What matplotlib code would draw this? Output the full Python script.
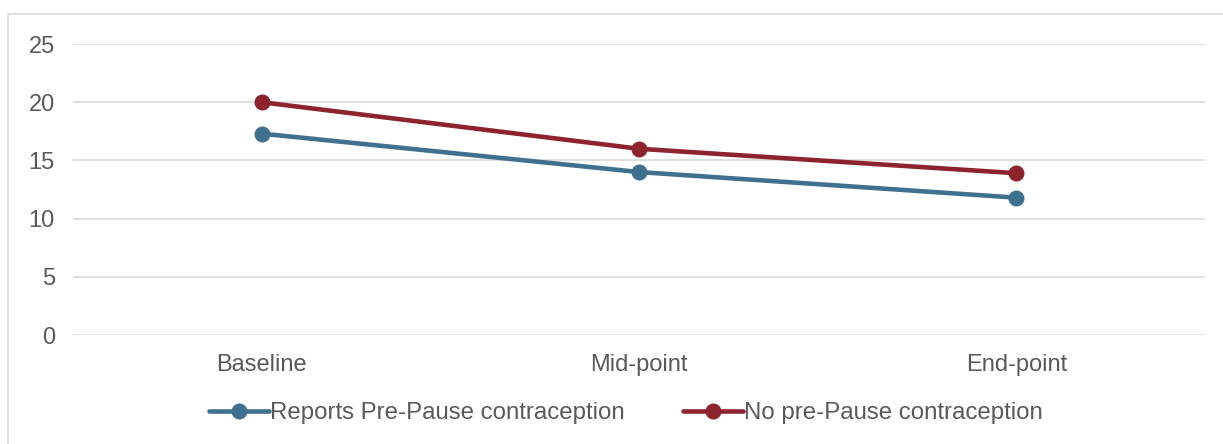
import matplotlib.pyplot as plt
from matplotlib.patches import Rectangle

# data
categories = ['Baseline', 'Mid-point', 'End-point']
pre_pause = [17.3, 14.0, 11.8]
no_pre_pause = [20.0, 16.0, 13.9]
series_names = ['Reports Pre-Pause contraception', 'No pre-Pause contraception']
y_ticks = [0, 5, 10, 15, 20, 25]

plt.rcParams['font.family'] = ['Liberation Sans', 'DejaVu Sans']

fig = plt.figure(figsize=(12.23, 4.44), dpi=100)
W, H = 1223, 444
ax = fig.add_axes([73 / W, 1 - 335 / H, (1205 - 73) / W, (335 - 44) / H])

# outer chart frame
fig.patches.append(Rectangle((8 / W, -0.05), 1.2, 1 - 14 / H + 0.05, transform=fig.transFigure,
                             fill=False, edgecolor='#d9d9d9', linewidth=1.2))

blue = '#40708f'
red = '#8c232d'
x = range(len(categories))
ax.plot(x, pre_pause, color=blue, linewidth=3.3, marker='o', markersize=10.5, label=series_names[0],
        solid_capstyle='round')
ax.plot(x, no_pre_pause, color=red, linewidth=3.3, marker='o', markersize=10.5, label=series_names[1],
        solid_capstyle='round')

ax.set_xlim(-0.5, 2.5)
ax.set_ylim(0, 25)
ax.set_yticks(y_ticks)
ax.set_xticks(list(x))
ax.set_xticklabels(categories)
ax.yaxis.grid(True, color='#d9d9d9', linewidth=1.2)
ax.set_axisbelow(True)
for s in ax.spines.values():
    s.set_visible(False)
ax.tick_params(length=0, labelsize=17, colors='#595959')
ax.tick_params(axis='x', pad=14)
ax.tick_params(axis='y', pad=13)

leg = ax.legend(loc='center', bbox_to_anchor=((626 - 73) / (1205 - 73), 1 - (413 - 44) / (335 - 44)),
                ncol=2, frameon=False, fontsize=17.3, handlelength=2.5, columnspacing=2.4,
                handletextpad=0.05)
for t in leg.get_texts():
    t.set_color('#595959')

fig.savefig('out.png', dpi=100)
